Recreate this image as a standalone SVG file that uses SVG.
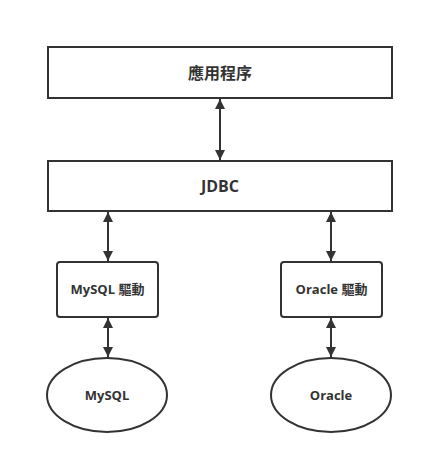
<svg xmlns="http://www.w3.org/2000/svg" width="423" height="464" viewBox="0 0 423 464">
<defs>
<marker id="ah" viewBox="0 0 10 10" refX="10" refY="5" markerWidth="10" markerHeight="10" markerUnits="userSpaceOnUse" orient="auto-start-reverse">
<path d="M0,0 L10,5 L0,10 Z" fill="#333"/>
</marker>
</defs>
<style>
.box{fill:#fff;stroke:#333;stroke-width:2}
.t{font-family:"Open Sans","Noto Sans CJK TC",sans-serif;font-weight:bold;fill:#333;text-anchor:middle;dominant-baseline:central}
.c{stroke:#333;stroke-width:2;fill:none;marker-start:url(#ah);marker-end:url(#ah)}
</style>
<rect width="423" height="464" fill="#fff"/>
<g id="app"><rect class="box" x="48" y="47" width="344" height="51"/><text class="t" x="220" y="73" font-size="16">應用程序</text></g>
<g id="jdbc"><rect class="box" x="48" y="161" width="344" height="50"/><text class="t" x="220" y="186" font-size="16">JDBC</text></g>
<g id="mysqldrv"><rect class="box" x="57" y="262" width="101" height="55" rx="3"/><text class="t" x="107.5" y="289" font-size="13">MySQL 驅動</text></g>
<g id="oracledrv"><rect class="box" x="281" y="262" width="101" height="55" rx="3"/><text class="t" x="331.5" y="289" font-size="13">Oracle 驅動</text></g>
<g id="mysql"><ellipse class="box" cx="107" cy="395" rx="60" ry="37"/><text class="t" x="107" y="395" font-size="13">MySQL</text></g>
<g id="oracle"><ellipse class="box" cx="331" cy="395" rx="60" ry="37"/><text class="t" x="331" y="395" font-size="13">Oracle</text></g>
<g id="connectors">
<line class="c" x1="220" y1="99" x2="220" y2="160"/>
<line class="c" x1="108" y1="212" x2="108" y2="261"/>
<line class="c" x1="331" y1="212" x2="331" y2="261"/>
<line class="c" x1="108" y1="318" x2="108" y2="357"/>
<line class="c" x1="331" y1="318" x2="331" y2="357"/>
</g>
</svg>
